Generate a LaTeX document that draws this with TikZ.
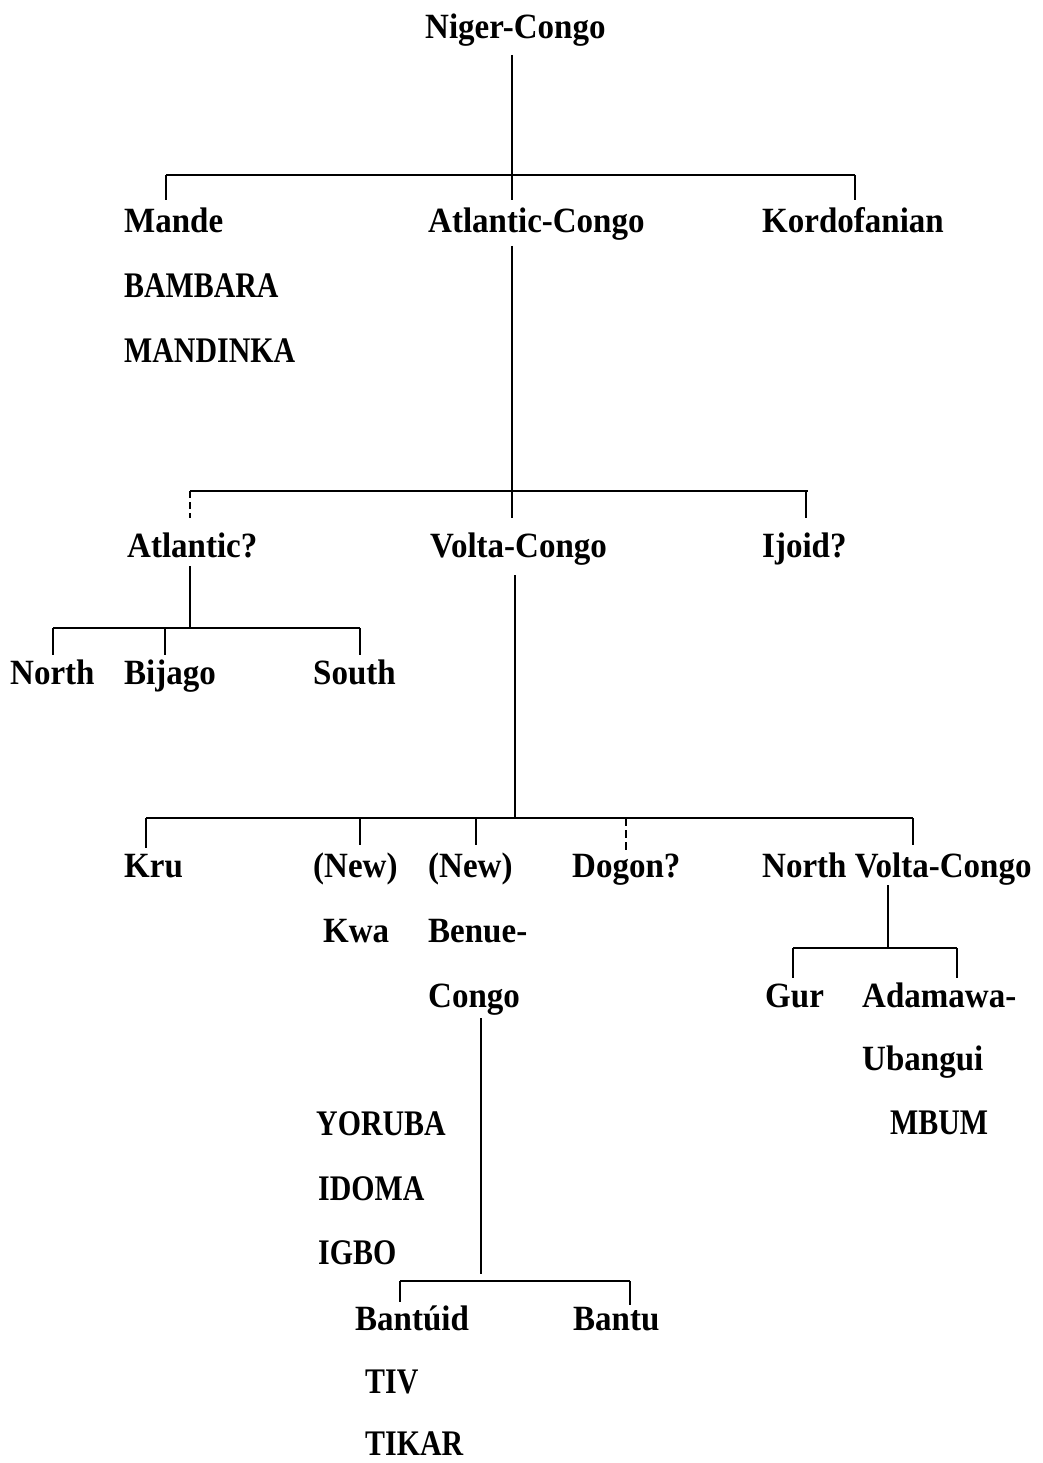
\documentclass[tikz,border=0pt]{standalone}
\usepackage{fontspec}
\setmainfont{Liberation Serif}
\newfontfamily\labfont{Liberation Serif}[FakeStretch=0.93]
\newfontfamily\capfont{Liberation Serif}[FakeStretch=0.83]
\begin{document}
\begin{tikzpicture}[x=1pt,y=-1pt,
  lab/.style={anchor=base west, inner sep=0pt, font=\labfont\fontsize{35.5}{40}\selectfont\bfseries},
  caps/.style={lab, font=\capfont\fontsize{36}{40}\selectfont\bfseries},
  tree/.style={line width=1.6pt, black}]
\useasboundingbox (0,0) rectangle (1043,1463);
% labels
\node[lab] (nc) at (425,39) {Niger-Congo};
\node[lab] (mande) at (124,233) {Mande};
\node[lab] (ac) at (428,233) {Atlantic-Congo};
\node[lab] (kord) at (762,233) {Kordofanian};
\node[caps] (bambara) at (124,297) {BAMBARA};
\node[caps] (mandinka) at (124,362) {MANDINKA};
\node[lab] (atl) at (127,557) {Atlantic?};
\node[lab] (vc) at (430,557) {Volta-Congo};
\node[lab] (ijoid) at (762,557) {Ijoid?};
\node[lab] (north) at (10,684) {North};
\node[lab] (bijago) at (124,684) {Bijago};
\node[lab] (south) at (313,684) {South};
\node[lab] (kru) at (124,877) {Kru};
\node[lab] (new1) at (313,877) {(New)};
\node[lab] (new2) at (428,877) {(New)};
\node[lab] (dogon) at (572,877) {Dogon?};
\node[lab] (nvc) at (762,877) {North Volta-Congo};
\node[lab] (kwa) at (323,942) {Kwa};
\node[lab] (benue) at (428,942) {Benue-};
\node[lab] (congo) at (428,1007) {Congo};
\node[lab] (gur) at (765,1007) {Gur};
\node[lab] (adamawa) at (862,1007) {Adamawa-};
\node[lab] (ubangui) at (862,1070) {Ubangui};
\node[caps] (mbum) at (890,1134) {MBUM};
\node[caps] (yoruba) at (316,1135) {YORUBA};
\node[caps] (idoma) at (318,1200) {IDOMA};
\node[caps] (igbo) at (318,1264) {IGBO};
\node[lab] (bantuid) at (355,1330) {Bantúid};
\node[lab] (bantu) at (573,1330) {Bantu};
\node[caps] (tiv) at (365,1393) {TIV};
\node[caps] (tikar) at (365,1455) {TIKAR};
% junction coordinates
\coordinate (ncA) at (512,55);   \coordinate (ncB) at (512,200);
\coordinate (b1L) at (166,175);  \coordinate (b1R) at (855,175);
\coordinate (mandeT) at (166,200); \coordinate (kordT) at (855,200);
\coordinate (acA) at (512,246);  \coordinate (acB) at (512,518);
\coordinate (b2L) at (190,491);  \coordinate (b2R) at (808,491);
\coordinate (atlT) at (190,518); \coordinate (ijoT) at (806,518); \coordinate (ijoB) at (806,491);
\coordinate (atlA) at (190,566); \coordinate (atlB) at (190,628);
\coordinate (b3L) at (53,628);   \coordinate (b3R) at (360,628);
\coordinate (northT) at (53,655); \coordinate (bijB) at (165,628); \coordinate (bijT) at (165,655);
\coordinate (southT) at (360,655);
\coordinate (vcA) at (515,575);  \coordinate (vcB) at (515,818);
\coordinate (b4L) at (146,818);  \coordinate (b4R) at (913,818);
\coordinate (kruT) at (146,848);
\coordinate (kwaB) at (360,818); \coordinate (kwaT) at (360,845);
\coordinate (bcB) at (476,818);  \coordinate (bcT) at (476,845);
\coordinate (dogB) at (626,818); \coordinate (dogT) at (626,850);
\coordinate (nvcT) at (913,845);
\coordinate (nvcA) at (888,885); \coordinate (nvcB) at (888,948);
\coordinate (b5L) at (793,948);  \coordinate (b5R) at (957,948);
\coordinate (gurT) at (793,978); \coordinate (adaT) at (957,978);
\coordinate (congoA) at (481,1018); \coordinate (congoB) at (481,1274);
\coordinate (b6L) at (400,1281); \coordinate (b6R) at (630,1281);
\coordinate (bantuidT) at (400,1302); \coordinate (bantuT) at (630,1305);
% connectors
\draw[tree] (ncA) -- (ncB);
\draw[tree] (b1L) -- (b1R);
\draw[tree] (b1L) -- (mandeT);
\draw[tree] (b1R) -- (kordT);
\draw[tree] (acA) -- (acB);
\draw[tree] (b2L) -- (b2R);
\draw[tree, dash pattern=on 7pt off 4pt] (b2L) -- (atlT);
\draw[tree] (ijoB) -- (ijoT);
\draw[tree] (atlA) -- (atlB);
\draw[tree] (b3L) -- (b3R);
\draw[tree] (b3L) -- (northT);
\draw[tree] (bijB) -- (bijT);
\draw[tree] (b3R) -- (southT);
\draw[tree] (vcA) -- (vcB);
\draw[tree] (b4L) -- (b4R);
\draw[tree] (b4L) -- (kruT);
\draw[tree] (kwaB) -- (kwaT);
\draw[tree] (bcB) -- (bcT);
\draw[tree, dash pattern=on 8pt off 4pt] (dogB) -- (dogT);
\draw[tree] (b4R) -- (nvcT);
\draw[tree] (nvcA) -- (nvcB);
\draw[tree] (b5L) -- (b5R);
\draw[tree] (b5L) -- (gurT);
\draw[tree] (b5R) -- (adaT);
\draw[tree] (congoA) -- (congoB);
\draw[tree] (b6L) -- (b6R);
\draw[tree] (b6L) -- (bantuidT);
\draw[tree] (b6R) -- (bantuT);
\end{tikzpicture}
\end{document}
